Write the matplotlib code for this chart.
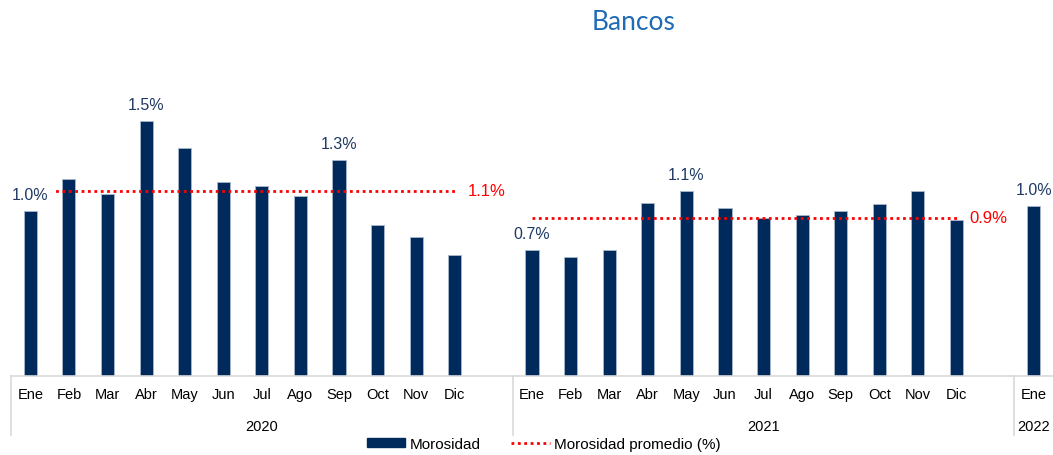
import numpy as np
import matplotlib.pyplot as plt
from matplotlib.patches import Patch
from matplotlib.lines import Line2D

plt.rcParams['font.family'] = ['Liberation Sans', 'DejaVu Sans']

# Morosidad mensual de bancos (%)
meses = ['Ene', 'Feb', 'Mar', 'Abr', 'May', 'Jun', 'Jul', 'Ago', 'Sep', 'Oct', 'Nov', 'Dic']
anios = ['2020', '2021', '2022']
mor_2020 = [0.97, 1.16, 1.07, 1.50, 1.34, 1.14, 1.12, 1.06, 1.27, 0.89, 0.82, 0.71]
mor_2021 = [0.74, 0.70, 0.74, 1.02, 1.09, 0.99, 0.93, 0.95, 0.97, 1.01, 1.09, 0.92]
mor_2022 = [1.00]
prom_2020 = 1.09
prom_2021 = 0.93

# meses con etiqueta de valor (indice dentro de cada año)
etiq_2020 = [0, 3, 8]
etiq_2021 = [0, 4]
etiq_2022 = [0]

azul = '#002A5C'
txt_azul = '#1F3A63'
rojo = '#FF0000'

fig = plt.figure(figsize=(10.53, 4.56), dpi=100)
ax = fig.add_axes([11 / 1053, 79 / 456, 1 - 11 / 1053, 317 / 456])

# posiciones: un hueco vacio al final de cada año
x20 = np.arange(12)
x21 = np.arange(12) + 13
x22 = np.arange(1) + 26
x_all = np.concatenate([x20, x21, x22])
v_all = mor_2020 + mor_2021 + mor_2022

ax.bar(x_all, v_all, width=0.34, color=azul, edgecolor='#A9B8CC', linewidth=0.6, zorder=2)

for xs, vals, idx in [(x20, mor_2020, etiq_2020), (x21, mor_2021, etiq_2021), (x22, mor_2022, etiq_2022)]:
    for i in idx:
        t = ax.annotate(f'{vals[i]:.1f}%', (xs[i], vals[i]), xytext=(0, 12), textcoords='offset points',
                        ha='center', va='center', fontsize=11.5, color=txt_azul, zorder=5)
        if xs[i] == 0:
            t.set_bbox(dict(facecolor='white', edgecolor='none', boxstyle='square,pad=0.45'))

# promedio anual
ls = (0, (1, 1.3))
ax.plot([x20[0], x20[-1]], [prom_2020] * 2, color=rojo, lw=2, ls=ls, zorder=3)
ax.plot([x21[0], x21[-1]], [prom_2021] * 2, color=rojo, lw=2, ls=ls, zorder=3)
ax.annotate(f'{prom_2020:.1f}%', (x20[-1], prom_2020), xytext=(9, 0), textcoords='offset points',
            ha='left', va='center', fontsize=12, color=rojo)
ax.annotate(f'{prom_2021:.1f}%', (x21[-1], prom_2021), xytext=(9, 0), textcoords='offset points',
            ha='left', va='center', fontsize=12, color=rojo)

ax.set_xlim(-0.5, 26.5)
ax.set_ylim(0, 317 / 170)
for s in ['top', 'right', 'left']:
    ax.spines[s].set_visible(False)
ax.spines['bottom'].set_color('#D9D9D9')
ax.spines['bottom'].set_linewidth(1.2)
ax.set_yticks([])
ax.set_xticks(x_all)
ax.set_xticklabels(meses + meses + meses[:1], fontsize=10.5)
ax.tick_params(axis='x', length=0, pad=8)

# separadores de año y etiquetas de año
tr = ax.get_xaxis_transform()
for xs in [-0.5, 12.5, 25.5]:
    ax.plot([xs, xs], [0, -59 / 317], color='#D9D9D9', lw=1.2, transform=tr, clip_on=False)
for a, c in zip(anios, [6, 19, 26]):
    ax.text(c, -50 / 317, a, transform=tr, ha='center', va='center', fontsize=10.5)

fig.text(634 / 1053, 1 - 22 / 456, 'Bancos', ha='center', va='center', fontsize=19,
         color='#1F6BB5', family=['Lato', 'DejaVu Sans'])

handles = [Patch(facecolor=azul, edgecolor=azul),
           Line2D([0], [0], color=rojo, lw=2, ls=ls)]
fig.legend(handles, ['Morosidad', 'Morosidad promedio (%)'], loc='center', ncol=2,
           bbox_to_anchor=(544 / 1053, 1 - 445 / 456), frameon=False, fontsize=11,
           handlelength=2.5, handleheight=0.5, handletextpad=0.3, columnspacing=2.0)

plt.savefig('out.png', dpi=100)
